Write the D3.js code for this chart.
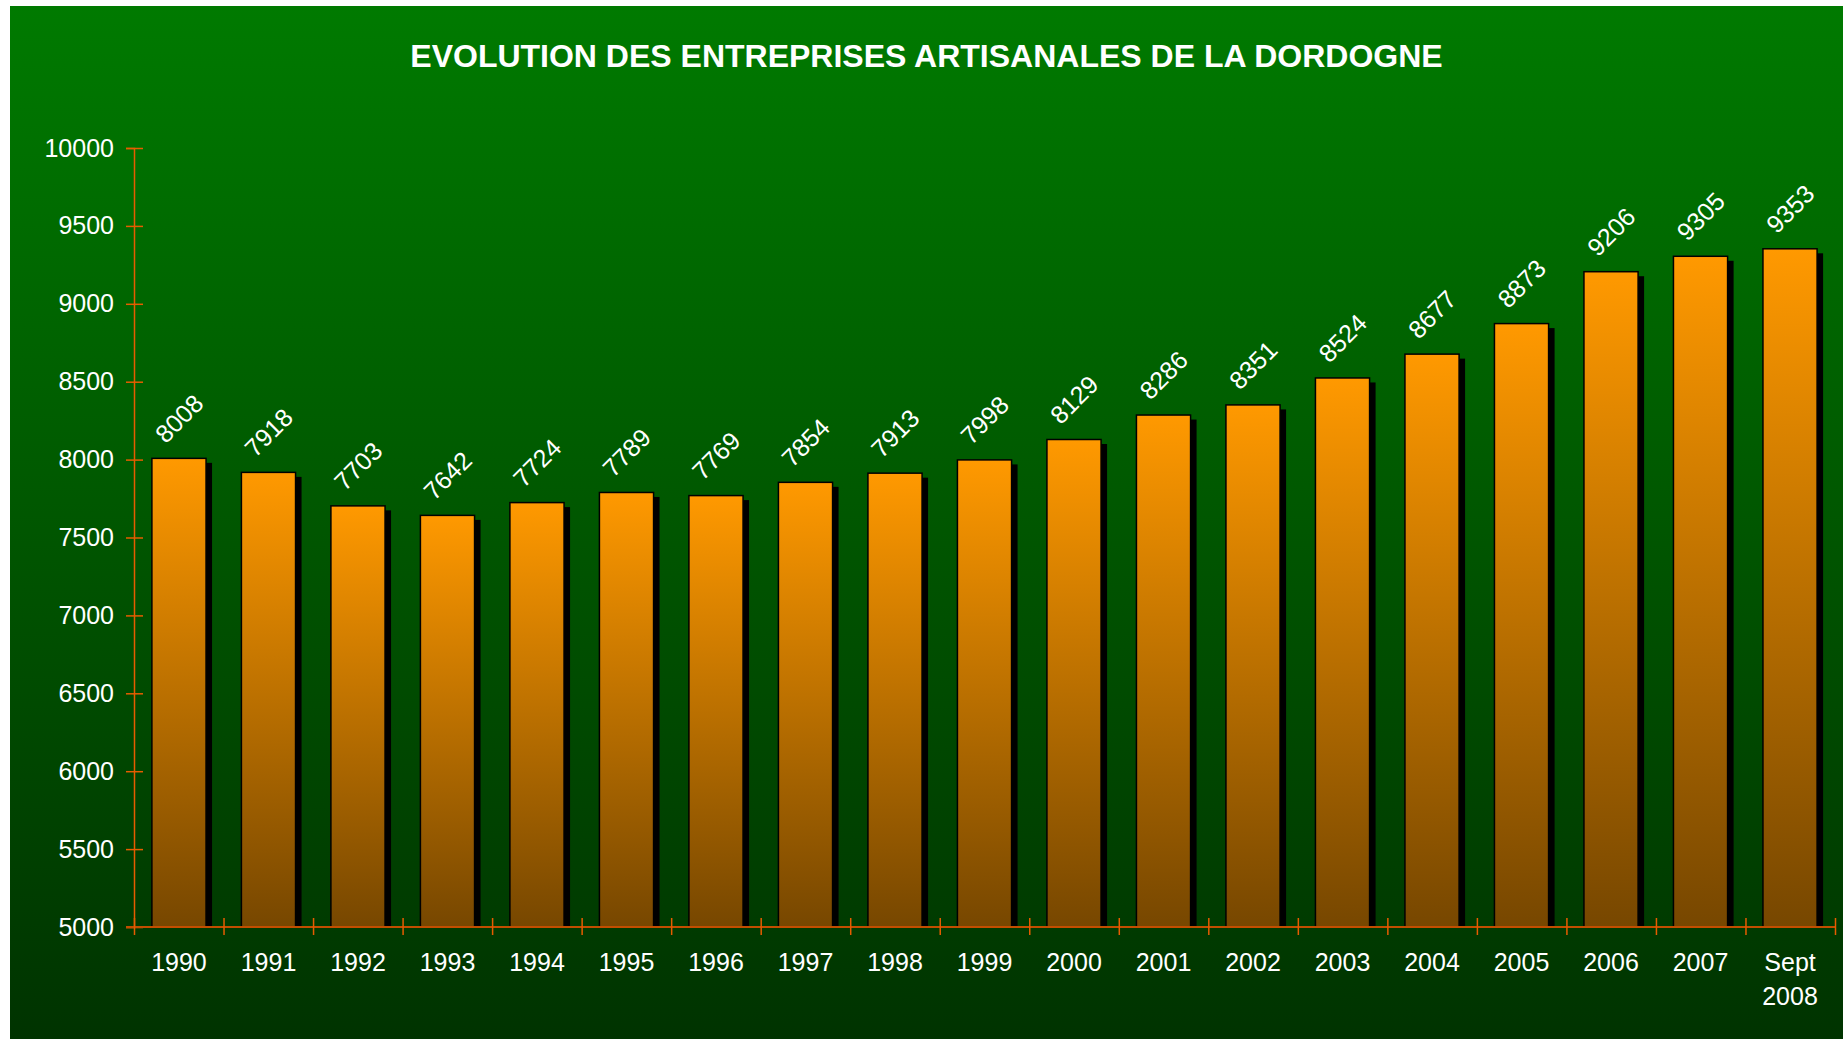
<!DOCTYPE html>
<html>
<head>
<meta charset="utf-8">
<script src="https://cdn.jsdelivr.net/npm/d3@7"></script>
<style>
    body { margin: 0; background: #fff; }
    text { font-family: "Liberation Sans", Arial, sans-serif; }
</style>
</head>
<body>
<div id="chart"></div>
<script>
// data
const categories = ["1990", "1991", "1992", "1993", "1994", "1995", "1996", "1997", "1998", "1999",
    "2000", "2001", "2002", "2003", "2004", "2005", "2006", "2007", "Sept\n2008"];
const values = [8008, 7918, 7703, 7642, 7724, 7789, 7769, 7854, 7913, 7998,
    8129, 8286, 8351, 8524, 8677, 8873, 9206, 9305, 9353];
const yTicks = [5000, 5500, 6000, 6500, 7000, 7500, 8000, 8500, 9000, 9500, 10000];
const chartTitle = "EVOLUTION DES ENTREPRISES ARTISANALES DE LA DORDOGNE";

class BarChart {

    constructor(_config) {
        this.config = {
            parentElement: _config.parentElement,
            containerWidth: _config.containerWidth || 1843,
            containerHeight: _config.containerHeight || 1039,
            margin: _config.margin || { top: 148, right: 8, bottom: 112, left: 134 }
        };
        this.initVis();
    }

    initVis() {
        let vis = this;

        vis.width = vis.config.containerWidth - vis.config.margin.left - vis.config.margin.right;
        vis.height = vis.config.containerHeight - vis.config.margin.top - vis.config.margin.bottom;

        vis.svg = d3.select(vis.config.parentElement)
            .append('svg')
            .attr('width', vis.config.containerWidth)
            .attr('height', vis.config.containerHeight);

        const defs = vis.svg.append('defs');

        const bg = defs.append('linearGradient')
            .attr('id', 'bgGrad')
            .attr('x1', 0).attr('y1', 0).attr('x2', 0).attr('y2', 1);
        bg.append('stop').attr('offset', '0%').attr('stop-color', '#007a00');
        bg.append('stop').attr('offset', '100%').attr('stop-color', '#003300');

        const barGrad = defs.append('linearGradient')
            .attr('id', 'barGrad')
            .attr('x1', 0).attr('y1', 0).attr('x2', 0).attr('y2', 1);
        barGrad.append('stop').attr('offset', '0%').attr('stop-color', '#ff9900');
        barGrad.append('stop').attr('offset', '100%').attr('stop-color', '#774700');

        vis.svg.append('rect')
            .attr('x', 10)
            .attr('y', 6)
            .attr('width', vis.config.containerWidth - 10)
            .attr('height', vis.config.containerHeight - 6)
            .attr('fill', 'url(#bgGrad)');

        vis.svg.append('text')
            .attr('x', (vis.config.containerWidth + 10) / 2)
            .attr('y', 67)
            .attr('text-anchor', 'middle')
            .attr('fill', '#fff')
            .attr('font-weight', 'bold')
            .attr('font-size', 32)
            .text(chartTitle);

        vis.chart = vis.svg.append('g')
            .attr('transform', `translate(${vis.config.margin.left},${vis.config.margin.top})`);
    }

    renderVis() {
        let vis = this;

        const xScale = d3.scaleBand()
            .domain(categories)
            .range([0, vis.width])
            .paddingInner(0.395)
            .paddingOuter(0.2);

        // boundaries between categories, for the tick marks
        const xEdges = d3.scaleLinear()
            .domain([0, categories.length])
            .range([0, vis.width]);

        const yScale = d3.scaleLinear()
            .domain([5000, 10000])
            .range([vis.height, 0]);

        const data = categories.map((c, i) => ({ cat: c, value: values[i] }));

        // shadows
        vis.chart.selectAll('.shadow')
            .data(data)
            .join('rect')
            .attr('class', 'shadow')
            .attr('x', d => xScale(d.cat) + 6)
            .attr('y', d => yScale(d.value) + 4.5)
            .attr('width', xScale.bandwidth())
            .attr('height', d => vis.height - yScale(d.value) - 4.5)
            .attr('fill', '#000');

        // bars
        vis.chart.selectAll('.bar')
            .data(data)
            .join('rect')
            .attr('class', 'bar')
            .attr('x', d => xScale(d.cat))
            .attr('y', d => yScale(d.value))
            .attr('width', xScale.bandwidth())
            .attr('height', d => vis.height - yScale(d.value))
            .attr('fill', 'url(#barGrad)')
            .attr('stroke', '#000')
            .attr('stroke-width', 1.5);

        // y axis
        const yAxis = d3.axisLeft(yScale)
            .tickValues(yTicks)
            .tickFormat(d3.format('d'))
            .tickSize(8)
            .tickPadding(12);

        const yG = vis.chart.append('g').call(yAxis);
        yG.select('.domain').attr('stroke', '#e65c00').attr('stroke-width', 1.5);
        yG.selectAll('.tick line').attr('stroke', '#e65c00').attr('stroke-width', 1.5).attr('x1', 9);
        yG.selectAll('.tick text')
            .attr('fill', '#fff')
            .attr('font-size', 25)
            .attr('font-family', '"Liberation Sans", Arial, sans-serif');

        // x axis: line and tick marks at category boundaries
        const xTickAxis = d3.axisBottom(xEdges)
            .tickValues(d3.range(categories.length + 1))
            .tickFormat('')
            .tickSize(8)
            .tickSizeOuter(0);

        const xG = vis.chart.append('g')
            .attr('transform', `translate(0, ${vis.height})`)
            .call(xTickAxis);
        xG.select('.domain').attr('stroke', '#c24e00').attr('stroke-width', 2)
            .attr('d', `M-8,0H${vis.width}`);
        xG.selectAll('.tick line').attr('stroke', '#e65c00').attr('stroke-width', 1.5).attr('y1', -9);

        // x labels
        const xLabelAxis = d3.axisBottom(xScale).tickSize(0).tickFormat('');
        const xL = vis.chart.append('g')
            .attr('transform', `translate(0, ${vis.height})`)
            .call(xLabelAxis);
        xL.select('.domain').remove();
        xL.selectAll('.tick').each(function (d) {
            const t = d3.select(this).append('text')
                .attr('fill', '#fff')
                .attr('font-size', 25)
                .attr('text-anchor', 'middle');
            d.split('\n').forEach((line, i) => {
                t.append('tspan')
                    .attr('x', 0)
                    .attr('y', 44 + i * 34)
                    .text(line);
            });
        });

        // value labels, rotated
        vis.chart.selectAll('.value')
            .data(data)
            .join('text')
            .attr('class', 'value')
            .attr('transform', d => `translate(${xScale(d.cat) + xScale.bandwidth() / 2}, ${yScale(d.value) - 40}) rotate(-45)`)
            .attr('text-anchor', 'middle')
            .attr('dominant-baseline', 'central')
            .attr('fill', '#fff')
            .attr('font-size', 25)
            .text(d => d.value);
    }
}

const chart = new BarChart({ parentElement: '#chart' });
chart.renderVis();
</script>
</body>
</html>
